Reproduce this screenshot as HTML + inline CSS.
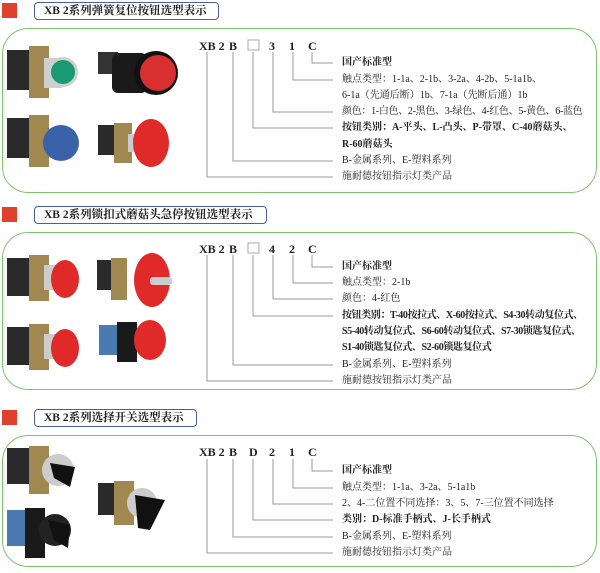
<!DOCTYPE html>
<html><head><meta charset="utf-8"><style>
html,body{margin:0;padding:0;background:#fff;}
body{width:600px;height:573px;position:relative;overflow:hidden;font-family:"Liberation Serif","Noto Serif CJK SC",serif;color:#222;}
.sq{position:absolute;left:2px;width:15px;height:15px;background:#e0412c;}
.tt{position:absolute;left:34px;height:16px;border:1.5px solid #4a5ea8;border-radius:4px;font-size:11.5px;font-weight:bold;line-height:16px;padding-left:9px;box-sizing:content-box;white-space:nowrap;overflow:hidden;}
.gb{position:absolute;left:2px;width:593px;border:1.5px solid #7cc46c;border-radius:26px;}
.t{position:absolute;font-size:10px;white-space:nowrap;line-height:12px;}
.b{font-weight:bold;}
.c{position:absolute;font-size:12px;font-weight:bold;line-height:12px;white-space:nowrap;}
svg{position:absolute;left:0;top:0;}
</style></head><body>
<div class="sq" style="top:3px"></div>
<div class="tt" style="top:2px;width:174px">XB 2系列弹簧复位按钮选型表示</div>
<div class="gb" style="top:28px;height:163px"></div>
<div class="sq" style="top:207px"></div>
<div class="tt" style="top:206px;width:222px">XB 2系列锁扣式蘑菇头急停按钮选型表示</div>
<div class="gb" style="top:232px;height:156px"></div>
<div class="sq" style="top:410px"></div>
<div class="tt" style="top:409px;width:152px">XB 2系列选择开关选型表示</div>
<div class="gb" style="top:435px;height:130px"></div>

<svg width="600" height="573" viewBox="0 0 600 573">
<g fill="none" stroke="#999" stroke-width="1">
<path d="M312 52V63H333M293 52V80H333M273 52V112H333M253 52V128H333M233 52V161H333M207 52V177H333"/>
<path d="M312 255V267H333M293 255V283H333M273 255V299H333M253 255V316H333M233 255V365H333M207 255V381H333"/>
<path d="M312 459V471H333M293 459V488H333M273 459V504H333M253 459V520H333M233 459V537H333M207 459V553H333"/>
</g>
<rect x="248" y="40" width="11" height="10" fill="none" stroke="#aaa"/>
<rect x="248" y="243" width="11" height="10" fill="none" stroke="#aaa"/>
<g>
<rect x="7" y="50" width="24" height="40" fill="#2a2a2a"/><rect x="29" y="46" width="20" height="52" fill="#a08850"/>
<rect x="44" y="58" width="18" height="30" fill="#cfcfcf"/><circle cx="63" cy="72" r="15" fill="#d0d0d0"/><circle cx="63" cy="72" r="12" fill="#1a9a70"/>
<rect x="98" y="52" width="20" height="22" fill="#333"/><rect x="112" y="53" width="35" height="40" rx="6" fill="#1a1a1a"/>
<circle cx="156" cy="73" r="22" fill="#111"/><circle cx="158" cy="73" r="18" fill="#d83030"/>
<rect x="7" y="118" width="24" height="40" fill="#2a2a2a"/><rect x="29" y="115" width="20" height="52" fill="#a08850"/>
<circle cx="61" cy="143" r="18" fill="#3a62a8"/>
<rect x="98" y="125" width="18" height="30" fill="#2a2a2a"/><rect x="114" y="123" width="18" height="40" fill="#a08850"/>
<rect x="128" y="134" width="16" height="18" fill="#ccc"/><ellipse cx="151" cy="143" rx="18" ry="24" fill="#e02a2a"/>
</g>
<g>
<rect x="7" y="258" width="24" height="38" fill="#2a2a2a"/><rect x="29" y="255" width="20" height="46" fill="#a08850"/>
<rect x="44" y="265" width="14" height="25" fill="#ccc"/><ellipse cx="65" cy="279" rx="14" ry="19" fill="#e02a2a"/>
<rect x="97" y="260" width="16" height="30" fill="#2a2a2a"/><rect x="111" y="258" width="16" height="42" fill="#a08850"/>
<ellipse cx="152" cy="280" rx="18" ry="27" fill="#e02a2a"/><rect x="150" y="277" width="22" height="8" rx="3" fill="#ccc"/>
<rect x="7" y="327" width="24" height="38" fill="#2a2a2a"/><rect x="29" y="324" width="20" height="46" fill="#a08850"/>
<rect x="44" y="334" width="14" height="25" fill="#ccc"/><ellipse cx="65" cy="348" rx="14" ry="19" fill="#e02a2a"/>
<rect x="99" y="325" width="20" height="30" fill="#4a7ab0"/><rect x="117" y="322" width="20" height="40" fill="#1a1a1a"/>
<ellipse cx="150" cy="340" rx="16" ry="20" fill="#e02a2a"/>
</g>
<g>
<rect x="7" y="448" width="24" height="36" fill="#2a2a2a"/><rect x="29" y="446" width="20" height="48" fill="#a08850"/>
<circle cx="58" cy="470" r="16" fill="#ccc"/><path d="M50 463L75 467L70 487L54 478Z" fill="#111"/>
<rect x="7" y="510" width="20" height="36" fill="#4a7ab0"/><rect x="25" y="508" width="20" height="50" fill="#1a1a1a"/>
<circle cx="55" cy="530" r="16" fill="#222"/><path d="M48 520L70 525L68 548L54 540Z" fill="#111"/>
<rect x="98" y="483" width="18" height="32" fill="#2a2a2a"/><rect x="114" y="481" width="20" height="44" fill="#a08850"/>
<circle cx="142" cy="503" r="15" fill="#ccc"/><path d="M135 495L165 500L150 530L138 528Z" fill="#111"/>
</g>
</svg>

<div class="c" style="left:199px;top:40px">XB 2</div><div class="c" style="left:229px;top:40px">B</div>
<div class="c" style="left:269px;top:40px">3</div><div class="c" style="left:289px;top:40px">1</div><div class="c" style="left:308px;top:40px">C</div>
<div class="t b" style="left:342px;top:57px">国产标准型</div>
<div class="t" style="left:342px;top:74px">触点类型：1-1a、2-1b、3-2a、4-2b、5-1a1b、</div>
<div class="t" style="left:342px;top:90px">6-1a（先通后断）1b、7-1a（先断后通）1b</div>
<div class="t" style="left:342px;top:106px;letter-spacing:-0.3px">颜色：1-白色、2-黑色、3-绿色、4-红色、5-黄色、6-蓝色</div>
<div class="t b" style="left:342px;top:122px">按钮类别：A-平头、L-凸头、P-带罩、C-40蘑菇头、</div>
<div class="t b" style="left:342px;top:139px">R-60蘑菇头</div>
<div class="t" style="left:342px;top:155px">B-金属系列、E-塑料系列</div>
<div class="t" style="left:342px;top:171px">施耐德按钮指示灯类产品</div>

<div class="c" style="left:199px;top:243px">XB 2</div><div class="c" style="left:229px;top:243px">B</div>
<div class="c" style="left:269px;top:243px">4</div><div class="c" style="left:289px;top:243px">2</div><div class="c" style="left:308px;top:243px">C</div>
<div class="t b" style="left:342px;top:261px">国产标准型</div>
<div class="t" style="left:342px;top:277px">触点类型：2-1b</div>
<div class="t" style="left:342px;top:293px">颜色：4-红色</div>
<div class="t b" style="left:342px;top:310px;letter-spacing:-0.4px">按钮类别：T-40按拉式、X-60按拉式、S4-30转动复位式、</div>
<div class="t b" style="left:342px;top:326px;letter-spacing:-0.4px">S5-40转动复位式、S6-60转动复位式、S7-30锁匙复位式、</div>
<div class="t b" style="left:342px;top:342px;letter-spacing:-0.4px">S1-40锁匙复位式、S2-60锁匙复位式</div>
<div class="t" style="left:342px;top:359px">B-金属系列、E-塑料系列</div>
<div class="t" style="left:342px;top:375px">施耐德按钮指示灯类产品</div>

<div class="c" style="left:199px;top:446px">XB 2</div><div class="c" style="left:229px;top:446px">B</div>
<div class="c" style="left:249px;top:446px">D</div><div class="c" style="left:269px;top:446px">2</div><div class="c" style="left:289px;top:446px">1</div><div class="c" style="left:308px;top:446px">C</div>
<div class="t b" style="left:342px;top:465px">国产标准型</div>
<div class="t" style="left:342px;top:482px">触点类型：1-1a、3-2a、5-1a1b</div>
<div class="t" style="left:342px;top:498px">2、4-二位置不同选择：3、5、7-三位置不同选择</div>
<div class="t b" style="left:342px;top:514px">类别：D-标准手柄式、J-长手柄式</div>
<div class="t" style="left:342px;top:531px">B-金属系列、E-塑料系列</div>
<div class="t" style="left:342px;top:547px">施耐德按钮指示灯类产品</div>
</body></html>
